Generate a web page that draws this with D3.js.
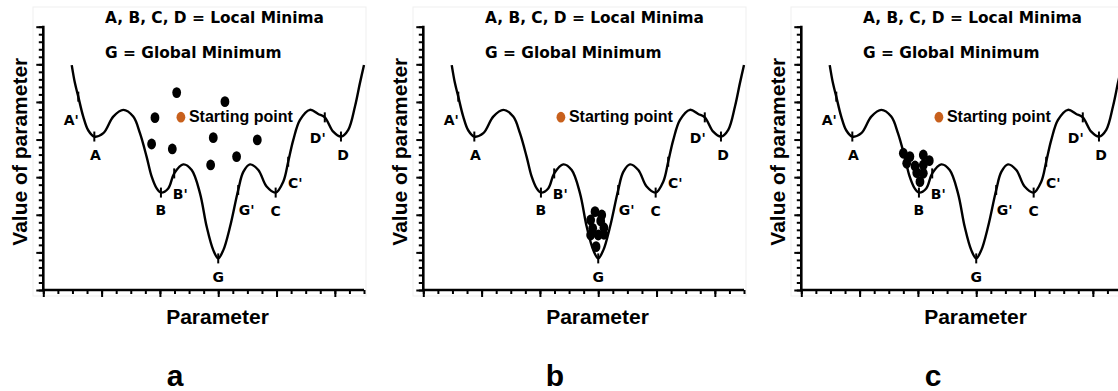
<!DOCTYPE html>
<html>
<head>
<meta charset="utf-8">
<script src="https://cdnjs.cloudflare.com/ajax/libs/d3/7.8.5/d3.min.js"></script>
<style>
  body { margin: 0; background: #fff; }
  svg { display: block; }
</style>
</head>
<body>
<div class="container"></div>
<script>
// loss curve (parameter units, value units)
var curveX = [1.95, 2.17, 2.40, 2.74, 3.09, 3.50, 4.12, 4.80, 5.49, 6.17, 6.63, 7.09, 7.43, 7.78, 8.07,
              8.57, 8.98, 9.60, 10.18, 10.75, 11.21, 11.66, 12.00, 12.35, 12.81, 13.37, 13.72, 14.18,
              14.75, 15.32, 15.94, 16.46, 16.80, 17.15, 17.61, 18.29, 18.86, 19.31, 19.89, 20.42,
              20.92, 21.38, 21.72, 22.00];
var curveY = [29.9, 27.5, 25.7, 23.05, 21.2, 20.4, 20.85, 23.05, 23.95, 23.05, 20.85, 17.7, 15.1, 13.5, 12.95,
              13.5, 15.5, 16.7, 15.95, 12.85, 8.4, 5.3, 4.2, 5.3, 8.4, 13.3, 15.7, 16.7,
              15.95, 13.75, 12.95, 14.4, 17.05, 19.95, 22.6, 23.95, 23.4, 22.95, 21.05, 20.4,
              21.3, 24.4, 27.5, 29.9];

// marked points on the curve
var markNames = ["A'", "A", "B", "B'", "G", "G'", "C", "C'", "D'", "D"];
var markX = [2.40, 3.50, 8.07, 8.98, 12.00, 13.37, 15.94, 16.80, 19.31, 20.42];
var markY = [25.7, 20.4, 12.95, 15.5, 4.2, 13.3, 12.95, 17.05, 22.95, 20.4];

var startX = 9.44, startY = 22.97;

// panel a: scattered samples
var dotsAX = [9.15, 12.46, 7.66, 7.43, 8.85, 11.66, 14.68, 13.26, 11.48];
var dotsAY = [26.24, 25.04, 22.91, 19.41, 18.75, 20.25, 19.95, 17.73, 16.62];
// panel b: converged at G
var dotsBX = [11.78, 12.24, 11.48, 12.17, 12.39, 11.62, 11.48, 12.00, 12.39, 11.85];
var dotsBY = [10.41, 9.97, 9.31, 9.18, 8.28, 8.20, 7.31, 7.31, 7.41, 5.76];
// panel c: stuck at B
var dotsCX = [7.00, 7.45, 8.37, 8.78, 7.23, 7.80, 8.37, 7.92, 8.37, 8.14];
var dotsCY = [18.18, 17.73, 17.95, 17.19, 16.85, 16.49, 16.62, 15.60, 15.52, 14.40];

var panelLetters = ["a", "b", "c"];
var titleLines = ["A, B, C, D = Local Minima", "G = Global Minimum"];

// label offsets from their mark, px
var labelOff = {
  "A'": [-7, 23], "A": [1, 18], "B": [0, 17.5], "B'": [6, 21], "G": [0, 18.5],
  "G'": [8.5, 20], "C": [0, 18], "C'": [7, 21], "D'": [-7, 21], "D": [2, 18]
};

var width = 1118, height = 391;
var panelX = [0, 380, 758];

var svg = d3.select("div.container").append("svg")
    .attr("width", width)
    .attr("height", height);

var x = d3.scaleLinear().domain([0, 22]).range([43.3, 364]);
var y = d3.scaleLinear().domain([0, 35]).range([290, 26.7]);

var line = d3.line()
    .x(function(d) { return x(d[0]); })
    .y(function(d) { return y(d[1]); })
    .curve(d3.curveCatmullRom.alpha(0.5));

var curvePts = curveX.map(function(v, i) { return [v, curveY[i]]; });
var dotSets = [
  dotsAX.map(function(v, i) { return [v, dotsAY[i]]; }),
  dotsBX.map(function(v, i) { return [v, dotsBY[i]]; }),
  dotsCX.map(function(v, i) { return [v, dotsCY[i]]; })
];

panelLetters.forEach(function(letter, p) {
  var g = svg.append("g").attr("transform", "translate(" + panelX[p] + ",0)");

  // faint frame of the embedded picture
  g.append("rect")
      .attr("x", 33).attr("y", 7)
      .attr("width", 333).attr("height", 289)
      .attr("fill", "none")
      .attr("stroke", "#efefef")
      .attr("stroke-width", 1);

  // minor + major ticks
  g.append("g")
      .attr("class", "ytick-minor")
      .attr("transform", "translate(" + x(0) + ",0)")
      .call(d3.axisLeft(y).tickValues(d3.range(0, 36, 1)).tickSize(4.5).tickFormat(""));
  g.append("g")
      .attr("class", "ytick-major")
      .attr("transform", "translate(" + x(0) + ",0)")
      .call(d3.axisLeft(y).tickValues(d3.range(0, 36, 5)).tickSize(7).tickFormat(""));
  g.append("g")
      .attr("class", "xtick-minor")
      .attr("transform", "translate(0," + y(0) + ")")
      .call(d3.axisBottom(x).tickValues(d3.range(0, 23, 1)).tickSize(4).tickFormat(""));
  g.append("g")
      .attr("class", "xtick-major")
      .attr("transform", "translate(0," + y(0) + ")")
      .call(d3.axisBottom(x).tickValues(d3.range(0, 21, 4)).tickSize(7).tickFormat(""));

  g.selectAll(".domain").remove();
  g.selectAll(".tick line").attr("stroke", "#000").attr("stroke-width", 2);

  g.append("line")
      .attr("x1", x(0)).attr("x2", x(0))
      .attr("y1", y(35) - 1).attr("y2", y(0) + 1)
      .attr("stroke", "#000").attr("stroke-width", 2.6);
  g.append("line")
      .attr("x1", x(0) - 1).attr("x2", x(22))
      .attr("y1", y(0)).attr("y2", y(0))
      .attr("stroke", "#000").attr("stroke-width", 2.6);

  // the curve
  g.append("path")
      .datum(curvePts)
      .attr("d", line)
      .attr("fill", "none")
      .attr("stroke", "#000")
      .attr("stroke-width", 2.4);

  // little ticks on the curve
  g.selectAll(".mark")
      .data(markNames)
      .enter().append("line")
      .attr("class", "mark")
      .attr("x1", function(d, i) { return x(markX[i]); })
      .attr("x2", function(d, i) { return x(markX[i]); })
      .attr("y1", function(d, i) { return y(markY[i]) - 5; })
      .attr("y2", function(d, i) { return y(markY[i]) + 5; })
      .attr("stroke", "#000")
      .attr("stroke-width", 2);

  g.selectAll(".mark-label")
      .data(markNames)
      .enter().append("text")
      .attr("class", "mark-label")
      .attr("x", function(d, i) { return x(markX[i]) + labelOff[d][0]; })
      .attr("y", function(d, i) { return y(markY[i]) + labelOff[d][1]; })
      .attr("text-anchor", "middle")
      .attr("dominant-baseline", "central")
      .style("font-family", "'DejaVu Sans', sans-serif")
      .style("font-weight", "bold")
      .style("font-size", "14px")
      .text(function(d) { return d; });

  // title lines
  g.selectAll(".title")
      .data(titleLines)
      .enter().append("text")
      .attr("class", "title")
      .attr("x", 105)
      .attr("y", function(d, i) { return 22.7 + i * 35.5; })
      .style("font-family", "'DejaVu Sans', sans-serif")
      .style("font-weight", "bold")
      .style("font-size", "15.4px")
      .text(function(d) { return d; });

  // samples
  g.selectAll(".dot")
      .data(dotSets[p])
      .enter().append("ellipse")
      .attr("class", "dot")
      .attr("cx", function(d) { return x(d[0]); })
      .attr("cy", function(d) { return y(d[1]); })
      .attr("rx", 4.4)
      .attr("ry", 5.4)
      .attr("fill", "#000");

  // starting point
  g.append("ellipse")
      .attr("cx", x(startX))
      .attr("cy", y(startY))
      .attr("rx", 4.4)
      .attr("ry", 5.4)
      .attr("fill", "#c8601c");
  g.append("text")
      .attr("x", x(startX) + 8)
      .attr("y", y(startY) + 5.3)
      .style("font-family", "'Liberation Sans', Arial, sans-serif")
      .style("font-weight", "bold")
      .style("font-size", "16px")
      .text("Starting point");

  // axis titles
  g.append("text")
      .attr("transform", "translate(26.5," + 151.7 + ") rotate(-90)")
      .attr("text-anchor", "middle")
      .style("font-family", "'Liberation Sans', Arial, sans-serif")
      .style("font-weight", "bold")
      .style("font-size", "21px")
      .text("Value of parameter");
  g.append("text")
      .attr("x", 217.5)
      .attr("y", 324.3)
      .attr("text-anchor", "middle")
      .style("font-family", "'Liberation Sans', Arial, sans-serif")
      .style("font-weight", "bold")
      .style("font-size", "21px")
      .text("Parameter");

  // panel letter
  g.append("text")
      .attr("x", 175)
      .attr("y", 386)
      .attr("text-anchor", "middle")
      .style("font-family", "'Liberation Sans', Arial, sans-serif")
      .style("font-weight", "bold")
      .style("font-size", "30px")
      .text(letter);
});
</script>
</body>
</html>
